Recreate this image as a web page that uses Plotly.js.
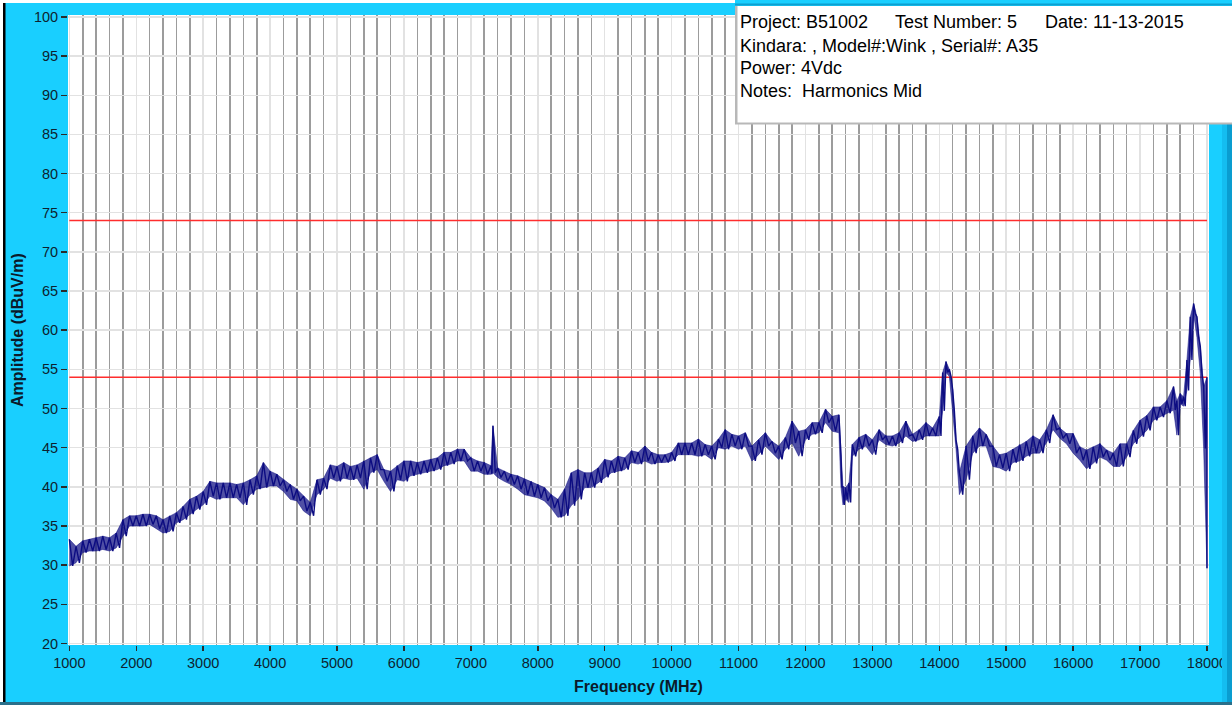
<!DOCTYPE html>
<html>
<head>
<meta charset="utf-8">
<script src="https://cdn.plot.ly/plotly-3.0.1.min.js"></script>
<style>
  html, body { margin: 0; padding: 0; background: #19cfff; }
  #chart { width: 1232px; height: 705px; }
</style>
</head>
<body>
<div id="chart"></div>
<script>
// Frequency sample points (MHz) with the lower and upper edge of the noisy trace (dBuV/m)
const freqMHz = [
  1000,1100,1200,1300,1400,1500,1600,1700,1800,1900,
  2000,2100,2200,2300,2400,2500,2600,2700,2800,2900,
  3000,3100,3200,3300,3400,3500,3600,3700,3800,3900,
  4000,4100,4200,4300,4400,4500,4600,4700,4800,4900,
  5000,5100,5200,5300,5400,5500,5600,5700,5800,5900,
  6000,6100,6200,6300,6400,6500,6600,6700,6800,6900,
  7000,7100,7200,7300,7330,7400,7500,7600,7700,7800,7900,
  8000,8100,8200,8300,8400,8500,8600,8700,8800,8900,
  9000,9100,9200,9300,9400,9500,9600,9700,9800,9900,
  10000,10100,10200,10300,10400,10500,10600,10700,10800,10900,
  11000,11100,11200,11300,11400,11500,11600,11700,11800,11900,
  12000,12100,12200,12300,12400,12500,12530,12560,12600,12650,12700,12800,12900,
  13000,13100,13200,13300,13400,13500,13600,13700,13800,13900,
  14000,14050,14100,14150,14200,14250,14300,14400,14500,14600,14700,14800,14900,
  15000,15100,15200,15300,15400,15500,15600,15700,15800,15900,
  16000,16100,16200,16300,16400,16500,16600,16700,16800,16900,
  17000,17100,17200,17300,17400,17500,17550,17600,17650,17700,17750,17800,17850,17900,17950,
  18000
];
const ampLow = [
  29.9,30.3,31.6,31.8,31.8,32.0,31.8,32.2,33.7,35.0,
  35.0,35.0,35.2,34.6,34.1,34.3,35.4,35.8,36.5,37.1,
  37.7,38.8,38.4,38.6,38.6,38.6,37.7,39.0,39.7,39.9,
  40.1,40.1,39.4,38.4,38.2,36.9,36.3,39.0,39.7,41.1,
  40.7,41.1,40.9,41.1,39.7,41.8,42.2,40.7,39.4,40.9,
  40.7,41.4,41.6,41.8,42.0,42.2,42.7,42.9,43.3,43.3,
  42.0,42.0,41.6,41.6,41.8,41.2,40.7,40.3,39.7,39.0,38.8,
  38.6,38.2,37.3,36.1,36.3,37.6,38.4,39.9,39.9,40.5,
  41.2,41.8,42.0,42.2,43.1,42.9,43.3,42.9,43.1,43.1,
  43.3,44.1,44.1,44.1,43.9,44.1,43.5,45.0,44.8,45.2,
  44.8,45.2,43.3,44.1,45.2,44.3,43.5,44.8,45.6,43.9,
  46.0,46.7,46.9,48.2,47.1,46.9,40.0,37.7,38.4,38.0,43.9,44.8,45.2,
  44.1,46.0,45.4,45.2,45.6,46.5,45.8,46.0,46.5,46.5,
  46.5,49.7,54.6,54.1,49.7,44.8,39.0,40.9,44.3,45.2,45.2,42.6,42.4,
  42.0,43.1,43.3,43.9,44.3,44.3,45.6,47.3,46.2,45.5,
  44.3,43.4,42.3,43.0,43.8,43.4,42.6,42.6,43.8,45.5,
  46.4,47.2,48.5,48.9,49.4,49.8,46.6,50.6,50.3,52.3,56.2,62.1,59.1,54.5,44.9,
  29.6
];
const ampHigh = [
  33.3,32.4,33.1,33.3,33.5,33.7,33.5,34.1,35.8,36.3,
  36.3,36.5,36.5,36.3,35.8,36.3,36.7,37.5,38.4,38.8,
  39.4,40.7,40.5,40.5,40.5,40.3,40.5,40.9,41.4,43.1,
  42.0,41.6,40.9,40.3,39.7,38.8,38.0,40.9,41.1,42.8,
  42.6,43.1,42.6,42.8,43.3,43.7,44.1,42.2,42.0,42.7,
  43.3,43.3,43.1,43.3,43.5,43.7,44.4,44.4,44.8,44.8,
  43.7,43.3,43.1,42.7,47.8,42.4,42.0,41.6,41.4,41.0,40.7,
  40.3,39.9,39.0,38.4,39.7,41.8,42.2,41.8,41.8,42.4,
  43.5,43.3,43.9,43.7,44.6,44.4,45.2,44.4,44.1,44.1,
  44.4,45.6,45.6,45.6,46.1,45.4,45.2,46.1,47.3,46.7,
  46.5,46.9,45.2,46.0,46.9,45.8,45.2,46.3,48.4,47.1,
  47.3,48.2,48.2,49.9,49.0,49.2,44.1,40.0,39.9,40.5,45.4,46.3,46.7,
  46.0,47.3,46.5,46.5,46.9,48.4,46.7,47.3,48.2,47.5,
  49.0,54.6,56.0,55.0,52.4,46.0,41.8,45.2,46.5,47.5,46.7,45.2,44.1,
  44.3,44.8,45.4,45.8,46.5,46.0,47.3,49.2,47.5,46.8,
  46.8,45.1,44.7,45.1,45.5,44.7,44.3,45.5,45.5,47.2,
  48.5,49.1,50.2,50.2,51.0,52.8,51.0,51.9,51.5,56.2,61.7,63.4,61.7,57.9,52.8,
  54.0
];

// Limit lines (dBuV/m)
const limitValues = [74, 54];
const limitSpan = [1000, 18000];

// Axis ticks
const xTick0 = 1000, xMajorStep = 1000, xMinorStep = 200;
const yTick0 = 20, yStep = 5;

// Header text
const headerLines = [
  ["Project: B51002", "Test Number: 5", "Date: 11-13-2015"],
  ["Kindara: , Model#:Wink , Serial#: A35"],
  ["Power: 4Vdc"],
  ["Notes:  Harmonics Mid"]
];

// noisy trace path: upper edge at each sample, lower edge halfway to the next sample
const tx = [], ty = [];
for (let i = 0; i < freqMHz.length; i++) {
  tx.push(freqMHz[i]); ty.push(ampHigh[i]);
  const nx = i < freqMHz.length - 1 ? (freqMHz[i] + freqMHz[i + 1]) / 2 : freqMHz[i];
  tx.push(nx); ty.push(ampLow[i]);
}

const navy = '#0c0c82';
const traces = limitValues.map(v => ({
  x: limitSpan, y: [v, v], mode: 'lines', type: 'scatter',
  line: { color: 'rgb(255,45,45)', width: 1.5 }, hoverinfo: 'skip'
}));
traces.push({
  x: freqMHz, y: ampLow, mode: 'lines', type: 'scatter',
  line: { color: navy, width: 0.5 }
});
traces.push({
  x: freqMHz, y: ampHigh, mode: 'lines', type: 'scatter', fill: 'tonexty',
  fillcolor: 'rgba(12,12,130,0.72)', line: { color: navy, width: 0.5 }
});
traces.push({
  x: tx, y: ty, mode: 'lines', type: 'scatter',
  line: { color: navy, width: 1.4 }
});

// geometry helpers (pixels -> paper)
const L = 68, R = 1209, T = 15, B = 645;
const W = R - L, H = B - T;
const px = p => (p - L) / W;
const py = p => (B - p) / H;

const fontFam = '"Liberation Sans", Arial, sans-serif';
const annotations = [];
const lineY = [22.5, 45.5, 68, 90.5];
const segX = [737.5, 892.5, 1042.5];
headerLines.forEach((segs, li) => {
  segs.forEach((s, si) => {
    annotations.push({
      xref: 'paper', yref: 'paper', x: px(segX[si]), y: py(lineY[li]),
      xanchor: 'left', yanchor: 'middle', showarrow: false, text: s,
      font: { family: fontFam, size: 18, color: '#000' }
    });
  });
});
annotations.push({
  xref: 'paper', yref: 'paper', x: px(17), y: 0.5, textangle: -90,
  xanchor: 'center', yanchor: 'middle', showarrow: false,
  text: '<b>Amplitude (dBuV/m)</b>', font: { family: fontFam, size: 16, color: '#0b1a2a' }
});
annotations.push({
  xref: 'paper', yref: 'paper', x: 0.5, y: py(686),
  xanchor: 'center', yanchor: 'middle', showarrow: false,
  text: '<b>Frequency (MHz)</b>', font: { family: fontFam, size: 16, color: '#0b1a2a' }
});

const rect = (x0, x1, y0, y1, color) => ({
  type: 'rect', xref: 'paper', yref: 'paper', layer: 'above',
  x0: px(x0), x1: px(x1), y0: py(y1), y1: py(y0),
  fillcolor: color, line: { width: 0 }
});
const shapes = [
  rect(0, 735, 0, 3, '#ffffff'),
  rect(735, 1232, 3.5, 5.5, '#0d9fcf'),
  rect(0, 3, 0, 705, '#ffffff'),
  rect(3, 5.5, 3, 705, '#000000'),
  rect(0, 1232, 702, 705, '#2a6f8a'),
  rect(1222, 1227, 124, 702, '#14bdf0'),
  rect(1227, 1232, 124, 702, '#0a9dd0'),
  rect(735, 1232, 6, 124.5, '#b8b8b8'),
  rect(737.5, 1232, 6, 122.5, '#ffffff')
];

const layout = {
  width: 1232, height: 705,
  margin: { l: L, r: 1232 - R, t: T, b: 705 - B, pad: 0 },
  paper_bgcolor: '#19cfff', plot_bgcolor: '#ffffff',
  showlegend: false,
  font: { family: fontFam, size: 14.5, color: '#0d1f30' },
  xaxis: {
    range: [980, 18030], tickmode: 'linear', tick0: xTick0, dtick: xMajorStep, tickformat: 'd',
    showgrid: true, gridcolor: '#e2e2e2', gridwidth: 1.5,
    minor: { tickmode: 'linear', tick0: xTick0, dtick: xMinorStep, showgrid: true, gridcolor: '#9c9c9c', gridwidth: 1.6, ticks: '' },
    ticks: 'outside', ticklen: 5, tickwidth: 1.5, tickcolor: '#2a2a2a',
    zeroline: false, showline: false, fixedrange: true,
    tickfont: { family: fontFam, size: 14.5, color: '#0d1f30' }
  },
  yaxis: {
    range: [19.8, 100.25], tickmode: 'linear', tick0: yTick0, dtick: yStep, tickformat: 'd',
    showgrid: true, gridcolor: '#e2e2e2', gridwidth: 1.5,
    ticks: 'outside', ticklen: 6, tickwidth: 1.5, tickcolor: '#2a2a2a',
    zeroline: false, showline: false, fixedrange: true,
    tickfont: { family: fontFam, size: 14.5, color: '#0d1f30' }
  },
  shapes: shapes,
  annotations: annotations
};

Plotly.newPlot('chart', traces, layout, { displayModeBar: false, staticPlot: true });
</script>
</body>
</html>
